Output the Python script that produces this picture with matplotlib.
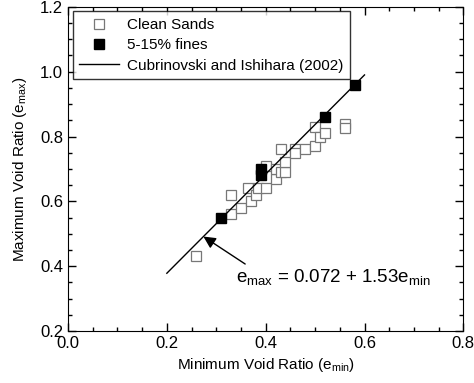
import numpy as np
import matplotlib
matplotlib.use("Agg")
import matplotlib.pyplot as plt
from matplotlib.ticker import MultipleLocator

plt.rcParams["font.family"] = ["Liberation Sans", "DejaVu Sans"]

# Clean sands (open squares)
clean_emin = [0.26, 0.33, 0.33, 0.35, 0.37, 0.365, 0.38, 0.385, 0.40, 0.40,
              0.42, 0.42, 0.43, 0.43, 0.44, 0.44, 0.46, 0.46, 0.48, 0.50,
              0.50, 0.51, 0.52, 0.56, 0.56]
clean_emax = [0.43, 0.62, 0.56, 0.58, 0.60, 0.64, 0.62, 0.64, 0.64, 0.71,
              0.67, 0.70, 0.76, 0.69, 0.69, 0.72, 0.76, 0.75, 0.76, 0.77,
              0.83, 0.80, 0.81, 0.84, 0.825]

# 5-15% fines (filled squares)
fines_emin = [0.31, 0.39, 0.39, 0.52, 0.58]
fines_emax = [0.55, 0.70, 0.68, 0.86, 0.96]

# Cubrinovski and Ishihara (2002): emax = 0.072 + 1.53 emin
fit_a = 0.072
fit_b = 1.53
fit_range = [0.2, 0.6]

fig = plt.figure(figsize=(4.74, 3.83), dpi=100)
ax = fig.add_axes([0.1435, 0.136, 0.834, 0.846])

ax.plot(clean_emin, clean_emax, "s", ms=7, mfc="white", mec="#777777",
        mew=0.9, label="Clean Sands", zorder=2)
ax.plot(fines_emin, fines_emax, "s", ms=7.5, mfc="black", mec="black",
        label="5-15% fines", zorder=3)
xf = np.array(fit_range)
ax.plot(xf, fit_a + fit_b * xf, "-", color="black", lw=1,
        label="Cubrinovski and Ishihara (2002)", zorder=4)

ax.annotate(r"$\mathregular{e_{max}}$ = 0.072 + 1.53$\mathregular{e_{min}}$",
            xy=(0.274, fit_a + fit_b * 0.274), xytext=(0.34, 0.367),
            fontsize=13.5, va="center", ha="left",
            arrowprops=dict(arrowstyle="-|>", color="black", lw=1,
                            mutation_scale=18, shrinkA=0, shrinkB=0,
                            relpos=(0.1, 0.8)))

ax.set_xlim(0, 0.8)
ax.set_ylim(0.2, 1.2)
ax.xaxis.set_major_locator(MultipleLocator(0.2))
ax.xaxis.set_minor_locator(MultipleLocator(0.05))
ax.yaxis.set_major_locator(MultipleLocator(0.2))
ax.yaxis.set_minor_locator(MultipleLocator(0.05))
ax.tick_params(which="both", direction="in", top=True, right=True,
               labelsize=12, width=1)
ax.tick_params(which="major", length=6)
ax.tick_params(which="minor", length=3)
ax.set_xticklabels([f"{v:.1f}" for v in ax.get_xticks()])
ax.set_yticklabels([f"{v:.1f}" for v in ax.get_yticks()])
ax.set_xlabel(r"Minimum Void Ratio ($\mathregular{e_{min}}$)", fontsize=11, labelpad=4)
ax.set_ylabel(r"Maximum Void Ratio ($\mathregular{e_{max}}$)", fontsize=11, labelpad=8)

leg = ax.legend(loc="upper left", fontsize=11, frameon=True, fancybox=False,
                edgecolor="black", borderaxespad=0.3, handlelength=2.6,
                labelspacing=0.4, borderpad=0.45, handletextpad=0.5)
leg.get_frame().set_linewidth(1)

fig.savefig("out.png", dpi=100)
